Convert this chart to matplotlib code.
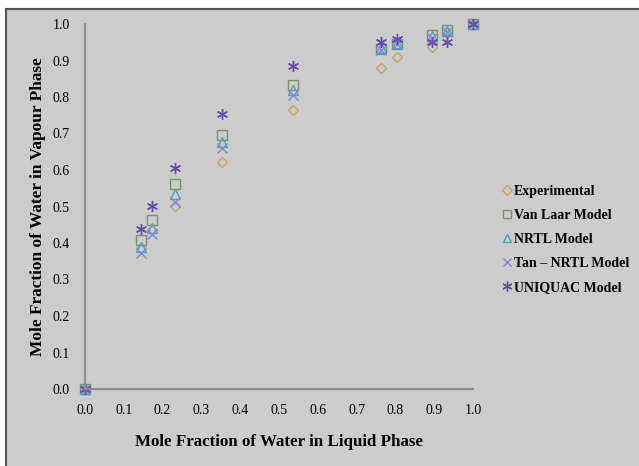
import matplotlib.pyplot as plt
from matplotlib.patches import Rectangle

# liquid-phase mole fraction of water
x_liq = [0.0, 0.144, 0.172, 0.232, 0.353, 0.536, 0.763, 0.804, 0.894, 0.933, 1.0]

# vapour-phase mole fraction of water, one list per series
y_exp = [0.0, 0.386, 0.435, 0.502, 0.622, 0.764, 0.880, 0.910, 0.937, 0.975, 1.0]
y_vanlaar = [0.0, 0.408, 0.463, 0.561, 0.696, 0.833, 0.932, 0.945, 0.970, 0.984, 1.0]
y_nrtl = [0.0, 0.389, 0.440, 0.534, 0.677, 0.820, 0.935, 0.948, 0.968, 0.980, 1.0]
y_tan = [0.0, 0.373, 0.425, 0.513, 0.660, 0.805, 0.930, 0.944, 0.962, 0.978, 1.0]
y_uniquac = [0.0, 0.438, 0.502, 0.605, 0.753, 0.885, 0.951, 0.958, 0.951, 0.951, 1.0]

series_names = ["Experimental", "Van Laar Model", "NRTL Model",
                "Tan \u2013 NRTL Model", "UNIQUAC Model"]

plt.rcParams["font.family"] = ["Liberation Serif", "DejaVu Serif"]

fig = plt.figure(figsize=(6.39, 4.66), dpi=100, facecolor="white")

# grey chart area with dark top/left border
top = 1 - 9 / 466
left = 6 / 639
bg = Rectangle((left, 0), 1, top, transform=fig.transFigure,
               facecolor="#cccccc", edgecolor="none", zorder=-10)
fig.add_artist(bg)
fig.add_artist(plt.Line2D([left, 1], [top, top], transform=fig.transFigure,
                          color="#555555", lw=1.5, zorder=-9))
fig.add_artist(plt.Line2D([left, left], [0, top], transform=fig.transFigure,
                          color="#555555", lw=1.5, zorder=-9))

ax = fig.add_axes([85 / 639, 77 / 466, 388 / 639, 365 / 466])
ax.set_facecolor("none")

styles = [
    dict(marker="D", color="#c4a468", ms=5.5),
    dict(marker="s", color="#7b9266", ms=7),
    dict(marker="^", color="#4f9fc3", ms=7),
    dict(marker="x", color="#7f88d3", ms=7),
    dict(marker=(6, 2, 0), color="#6a4aae", ms=8),
]
all_y = [y_exp, y_vanlaar, y_nrtl, y_tan, y_uniquac]

for ys, name, st in zip(all_y, series_names, styles):
    ax.plot(x_liq, ys, linestyle="none", marker=st["marker"], ms=st["ms"],
            markerfacecolor="none", markeredgecolor=st["color"],
            markeredgewidth=1.0, label=name, clip_on=False)

ax.set_xlim(0, 1)
ax.set_ylim(0, 1)
ticks = [i / 10 for i in range(11)]
ax.set_xticks(ticks)
ax.set_yticks(ticks)
ax.set_xticklabels([f"{t:.1f}" for t in ticks])
ax.set_yticklabels([f"{t:.1f}" for t in ticks])
ax.tick_params(length=0, labelsize=10, colors="black")
ax.tick_params(axis="x", pad=11)
ax.tick_params(axis="y", pad=11)

for side in ["top", "right"]:
    ax.spines[side].set_visible(False)
for side in ["left", "bottom"]:
    ax.spines[side].set_color("#8c8c8c")
    ax.spines[side].set_linewidth(1.6)

ax.set_xlabel("Mole Fraction of Water in Liquid Phase", fontsize=12.2,
              fontweight="bold", labelpad=12)
ax.set_ylabel("Mole Fraction of Water in Vapour Phase", fontsize=12.4,
              fontweight="bold", labelpad=5)

ax.legend(loc="center left", bbox_to_anchor=(1.045, 0.41), frameon=False,
          prop=dict(size=10, weight="bold"), handlelength=0.6,
          handletextpad=0.2, labelspacing=0.8, markerscale=0.9)

fig.savefig("out.png", dpi=100, facecolor="white")
